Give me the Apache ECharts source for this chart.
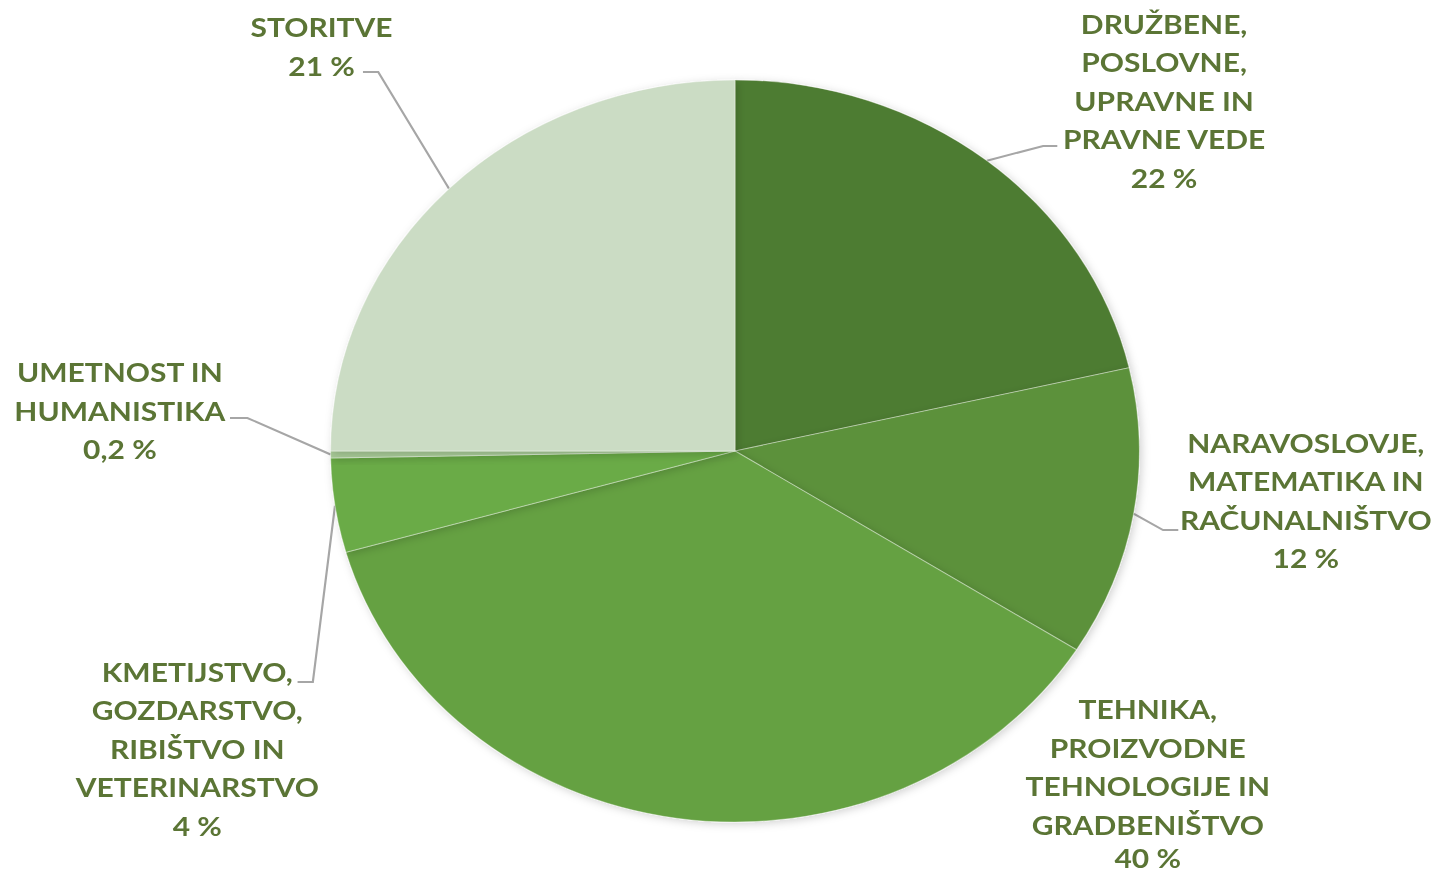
<!DOCTYPE html>
<html>
<head>
<meta charset="utf-8">
<script src="https://cdn.jsdelivr.net/npm/echarts@6/dist/echarts.min.js"></script>
<style>
  html, body { margin: 0; padding: 0; background: #ffffff; overflow: hidden; }
  #wrap { width: 1436px; height: 874px; position: relative; overflow: hidden; }
  #chart { position: absolute; left: 0; top: 0; height: 874px; transform-origin: 0 0; }
</style>
</head>
<body>
<div id="wrap"><div id="chart"></div></div>
<script>
// ---- data (clockwise from 12 o'clock) ----
const categories = [
  'DRUŽBENE,\nPOSLOVNE,\nUPRAVNE IN\nPRAVNE VEDE',
  'NARAVOSLOVJE,\nMATEMATIKA IN\nRAČUNALNIŠTVO',
  'TEHNIKA,\nPROIZVODNE\nTEHNOLOGIJE IN\nGRADBENIŠTVO',
  'KMETIJSTVO,\nGOZDARSTVO,\nRIBIŠTVO IN\nVETERINARSTVO',
  'UMETNOST IN\nHUMANISTIKA',
  'STORITVE'
];
// slice sizes as drawn in the picture (share of the full circle, %)
const sliceShares = [21.4, 12.6, 36.6, 4.1, 0.3, 25.0];
// percentages printed in the labels
const labelPercents = [22, 12, 40, 4, 0.2, 21];
const sliceColors = ['#4e7b31', '#5b913a', '#65a142', '#6aab47', '#a5c795', '#cbdcc4'];

// ---- layout (the original picture is stretched horizontally) ----
const SX = 1.09;
const W = 1436 / SX;
const chartEl = document.getElementById('chart');
chartEl.style.width = W + 'px';
chartEl.style.transform = 'scaleX(' + SX + ')';

const LH = 38.5;      // line height of text lines
const LH_LAST = 28;   // compact line height for a percent line near the bottom edge
const DY = (LH - LH_LAST) / 2;

// label block centres and leader-line stubs (chart coordinates)
const labelPos = [
  { x: 1068, y: 100, bend: [957, 146], end: [970, 146], compact: false },
  { x: 1198, y: 500, bend: [1067, 530], end: [1081, 530], compact: false },
  { x: 1053, y: 783, bend: null, end: null, compact: true },
  { x: 181, y: 748, bend: [287, 682], end: [273, 682], compact: false },
  { x: 110, y: 410, bend: [227, 418], end: [211, 418], compact: false },
  { x: 295, y: 46, bend: [347, 72], end: [333, 72], compact: false }
];

function fmtPct(v) { return String(v).replace('.', ',') + ' %'; }

const chart = echarts.init(chartEl, null, { renderer: 'svg', width: W, height: 874 });

const data = categories.map((name, i) => ({
  name: name,
  value: sliceShares[i],
  itemStyle: { color: sliceColors[i] },
  labelLine: { show: labelPos[i].bend !== null }
}));

const txt = { color: '#5b7535', fontFamily: 'Lato', fontWeight: 'bold', fontSize: 27.5 };

chart.setOption({
  animation: false,
  backgroundColor: '#ffffff',
  series: [{
    type: 'pie',
    center: [735 / SX, 451],
    radius: 371,
    startAngle: 90,
    clockwise: true,
    avoidLabelOverlap: false,
    data: data,
    itemStyle: {
      borderColor: 'rgba(255,255,255,0.35)',
      borderWidth: 1,
      shadowBlur: 8,
      shadowOffsetX: 2,
      shadowOffsetY: 2,
      shadowColor: 'rgba(0,0,0,0.18)'
    },
    label: Object.assign({
      show: true,
      position: 'outside',
      formatter: function (p) {
        const tag = labelPos[p.dataIndex].compact ? 'q' : 'p';
        return p.name + '\n{' + tag + '|' + fmtPct(labelPercents[p.dataIndex]) + '}';
      },
      lineHeight: LH,
      align: 'center',
      rich: {
        p: Object.assign({ lineHeight: LH }, txt),
        q: Object.assign({ lineHeight: LH_LAST }, txt)
      }
    }, txt),
    labelLine: {
      show: true,
      length: 20,
      length2: 10,
      lineStyle: { color: '#a6a6a6', width: 2 }
    },
    labelLayout: function (params) {
      const lp = labelPos[params.dataIndex];
      const y = lp.compact ? lp.y - DY / 2 : lp.y;
      const out = { x: lp.x, y: y, align: 'center', verticalAlign: 'middle', hideOverlap: false };
      if (lp.bend && params.labelLinePoints) {
        out.labelLinePoints = [params.labelLinePoints[0], lp.bend, lp.end];
      }
      return out;
    }
  }]
});
</script>
</body>
</html>
